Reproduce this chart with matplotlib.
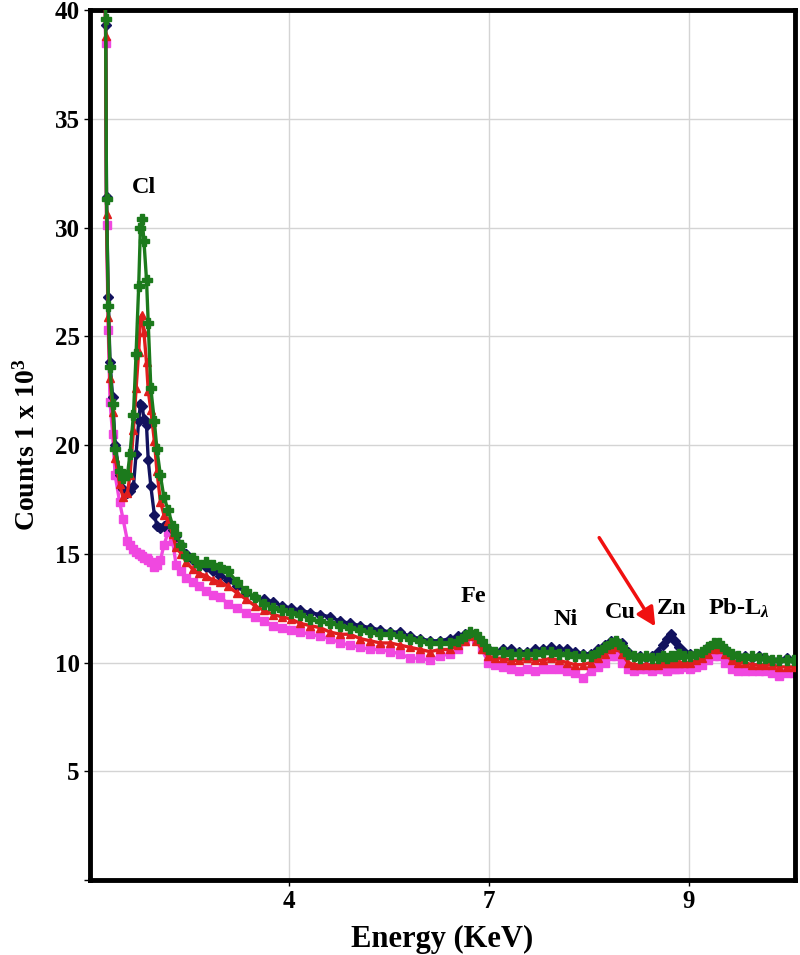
import numpy as np
import matplotlib.pyplot as plt

plt.rcParams['font.family'] = ['Liberation Serif', 'DejaVu Serif']
plt.rcParams['font.weight'] = 'bold'
plt.rcParams['mathtext.fontset'] = 'custom'
plt.rcParams['mathtext.rm'] = 'Liberation Serif:bold'
plt.rcParams['mathtext.bf'] = 'Liberation Serif:bold'
plt.rcParams['mathtext.it'] = 'Liberation Serif:bold:italic'

# energy axis (keV) shared by the four spectra
energy = [2.19, 2.21, 2.22, 2.24, 2.26, 2.29, 2.32, 2.37, 2.41, 2.46, 2.49, 2.53, 2.56, 2.59,
          2.61, 2.63, 2.65, 2.68, 2.70, 2.73, 2.77, 2.80, 2.84, 2.88, 2.93, 2.98, 3.02,
          3.08, 3.14, 3.21, 3.28, 3.36, 3.44, 3.53, 3.62, 3.72, 3.83, 3.93, 4.03, 4.14,
          4.24, 4.34, 4.45, 4.56, 4.68, 4.79, 4.91, 5.02, 5.14, 5.25, 5.37, 5.48, 5.60,
          5.71, 5.83, 5.94, 6.06, 6.17, 6.26, 6.34, 6.40, 6.47, 6.54, 6.61, 6.69, 6.78,
          6.87, 6.97, 7.06, 7.15, 7.24, 7.33, 7.42, 7.52, 7.61, 7.70, 7.79, 7.87, 7.95,
          8.02, 8.08, 8.15, 8.22, 8.29, 8.36, 8.42, 8.49, 8.56, 8.62, 8.67, 8.71, 8.76,
          8.80, 8.86, 8.93, 9.00, 9.07, 9.14, 9.21, 9.27, 9.34, 9.41, 9.48, 9.56, 9.64,
          9.72, 9.80, 9.88, 9.96, 10.05, 10.13]

navy = [46.0, 39.3, 31.4, 26.8, 23.8, 22.2, 20.0, 18.6, 18.0, 17.8, 17.9, 18.1, 19.6, 21.1,
        21.9, 21.8, 21.2, 20.9, 19.3, 18.1, 16.8, 16.3, 16.2, 16.3, 16.4, 16.1, 15.8,
        15.4, 15.0, 14.7, 14.5, 14.4, 14.2, 14.0, 13.8, 13.5, 13.2, 13.0, 12.9, 12.8,
        12.6, 12.5, 12.4, 12.3, 12.2, 12.1, 11.9, 11.8, 11.7, 11.6, 11.5, 11.4, 11.4,
        11.2, 11.1, 11.0, 11.0, 11.1, 11.2, 11.3, 11.3, 11.2, 10.9, 10.6, 10.5, 10.6,
        10.6, 10.5, 10.5, 10.6, 10.6, 10.7, 10.6, 10.6, 10.5, 10.4, 10.4, 10.6, 10.8,
        11.0, 11.0, 10.9, 10.5, 10.3, 10.3, 10.2, 10.3, 10.5, 10.8, 11.1, 11.3, 11.0,
        10.7, 10.5, 10.4, 10.4, 10.5, 10.7, 10.8, 10.8, 10.6, 10.4, 10.3, 10.3, 10.2,
        10.3, 10.2, 10.1, 10.1, 10.2, 10.1]

red = [45.0, 38.8, 30.6, 25.9, 23.1, 21.5, 19.4, 18.2, 17.6, 17.8, 18.6, 20.7, 22.6, 24.3,
       25.8, 26.0, 25.2, 23.8, 22.5, 21.6, 20.2, 18.8, 17.4, 16.8, 16.5, 15.9, 15.3,
       15.0, 14.6, 14.3, 14.1, 14.0, 13.8, 13.7, 13.5, 13.2, 12.9, 12.6, 12.4, 12.2,
       12.1, 12.0, 11.8, 11.7, 11.6, 11.4, 11.3, 11.3, 11.1, 11.0, 10.9, 10.9, 10.8,
       10.7, 10.6, 10.5, 10.6, 10.6, 10.8, 11.0, 11.2, 11.0, 10.6, 10.3, 10.2, 10.2,
       10.1, 10.1, 10.2, 10.1, 10.1, 10.2, 10.1, 10.0, 9.9, 9.9, 10.0, 10.2, 10.4,
       10.6, 10.7, 10.4, 10.0, 9.9, 9.9, 9.9, 9.9, 9.9, 10.0, 10.0, 10.0, 10.0,
       10.0, 10.0, 10.0, 10.1, 10.2, 10.4, 10.6, 10.6, 10.4, 10.1, 10.0, 10.0, 9.9,
       9.9, 9.9, 9.9, 9.8, 9.8, 9.8]

magenta = [44.0, 38.5, 30.1, 25.3, 22.0, 20.5, 18.6, 17.4, 16.6, 15.6, 15.4, 15.2, 15.1, 15.0,
           15.0, 14.9, 14.8, 14.8, 14.7, 14.6, 14.4, 14.5, 14.7, 15.4, 16.0, 15.6, 14.5,
           14.2, 13.9, 13.7, 13.5, 13.3, 13.1, 13.0, 12.7, 12.5, 12.3, 12.1, 11.9, 11.7,
           11.6, 11.5, 11.4, 11.3, 11.2, 11.1, 10.9, 10.8, 10.7, 10.6, 10.6, 10.5, 10.4,
           10.2, 10.2, 10.1, 10.3, 10.4, 10.6, 11.0, 11.3, 11.1, 10.6, 10.0, 9.9, 9.8,
           9.7, 9.6, 9.7, 9.6, 9.7, 9.7, 9.7, 9.6, 9.5, 9.3, 9.6, 9.8, 10.0,
           10.3, 10.3, 10.0, 9.7, 9.6, 9.7, 9.7, 9.6, 9.7, 9.7, 9.6, 9.7, 9.7,
           9.7, 9.8, 9.7, 9.8, 9.9, 10.1, 10.3, 10.3, 10.0, 9.7, 9.6, 9.6, 9.6,
           9.6, 9.6, 9.5, 9.4, 9.5, 9.5]

green = [47.0, 39.6, 31.3, 26.4, 23.6, 21.9, 19.8, 18.8, 18.5, 18.6, 19.6, 21.4, 24.2, 27.3,
         30.0, 30.4, 29.4, 27.6, 25.6, 22.6, 21.1, 19.8, 18.6, 17.6, 17.0, 16.3, 15.9,
         15.4, 14.9, 14.8, 14.5, 14.6, 14.5, 14.4, 14.2, 13.7, 13.3, 13.0, 12.7, 12.5,
         12.4, 12.3, 12.2, 12.0, 11.9, 11.8, 11.7, 11.6, 11.5, 11.4, 11.3, 11.3, 11.2,
         11.1, 11.0, 10.9, 10.9, 10.9, 11.0, 11.2, 11.4, 11.3, 11.0, 10.6, 10.5, 10.5,
         10.4, 10.4, 10.4, 10.4, 10.5, 10.5, 10.4, 10.4, 10.3, 10.3, 10.3, 10.5, 10.7,
         10.9, 11.0, 10.7, 10.4, 10.3, 10.2, 10.3, 10.2, 10.2, 10.3, 10.2, 10.3, 10.3,
         10.4, 10.3, 10.3, 10.4, 10.5, 10.7, 10.9, 10.9, 10.6, 10.4, 10.3, 10.2, 10.3,
         10.2, 10.2, 10.1, 10.1, 10.1, 10.1]

peak_labels = ['Cl', 'Fe', 'Ni', 'Cu', 'Zn', r'Pb-L$_{\lambda}$']
peak_x = [2.65, 6.44, 7.50, 8.13, 8.72, 9.50]
peak_y = [31.85, 13.05, 12.0, 12.3, 12.5, 12.5]

xtick_pos = [4.32, 6.62, 8.92]
xtick_labels = ['4', '7', '9']

fig = plt.figure(figsize=(8, 9.55), dpi=100)
ax = fig.add_axes([0.1125, 0.0785, 0.8813, 0.911])

ax.plot(energy, magenta, color='#f048e0', marker='s', ms=6, lw=2.4, zorder=2)
ax.plot(energy, navy, color='#12125e', marker='D', ms=5, lw=2.4, zorder=3)
ax.plot(energy, red, color='#e01e1e', marker='^', ms=6, lw=2.4, zorder=4)
ax.plot(energy, green, color='#1c7a1c', marker='P', ms=7, lw=2.4, zorder=5)

for lab, x, y in zip(peak_labels, peak_x, peak_y):
    ax.text(x, y, lab, ha='center', va='center', fontsize=17.5, fontweight='bold', zorder=6)

# red arrow pointing to the Zn line
ax.annotate('', xy=(8.55, 11.55), xytext=(7.87, 15.85),
            arrowprops=dict(arrowstyle='-|>', color='#f01010', lw=2.5, mutation_scale=28),
            zorder=7)

ax.set_xlim(2.03, 10.14)
ax.set_ylim(0, 40)
ax.set_yticks(np.arange(0, 41, 5))
ax.set_yticklabels([''] + [str(v) for v in range(5, 41, 5)])
ax.set_xticks(xtick_pos)
ax.set_xticklabels(xtick_labels)
ax.tick_params(axis='both', labelsize=18, length=4, width=1, direction='out')
ax.grid(True, color='#d4d4d4', lw=1)
ax.set_axisbelow(True)

for s in ax.spines.values():
    s.set_linewidth(3.5)
    s.set_color('black')

ax.set_xlabel('Energy (KeV)', fontsize=22, fontweight='bold', labelpad=8)
ax.set_ylabel(r'Counts 1 x 10$^{3}$', fontsize=20, fontweight='bold', labelpad=10)

fig.savefig('out.png', dpi=100)
